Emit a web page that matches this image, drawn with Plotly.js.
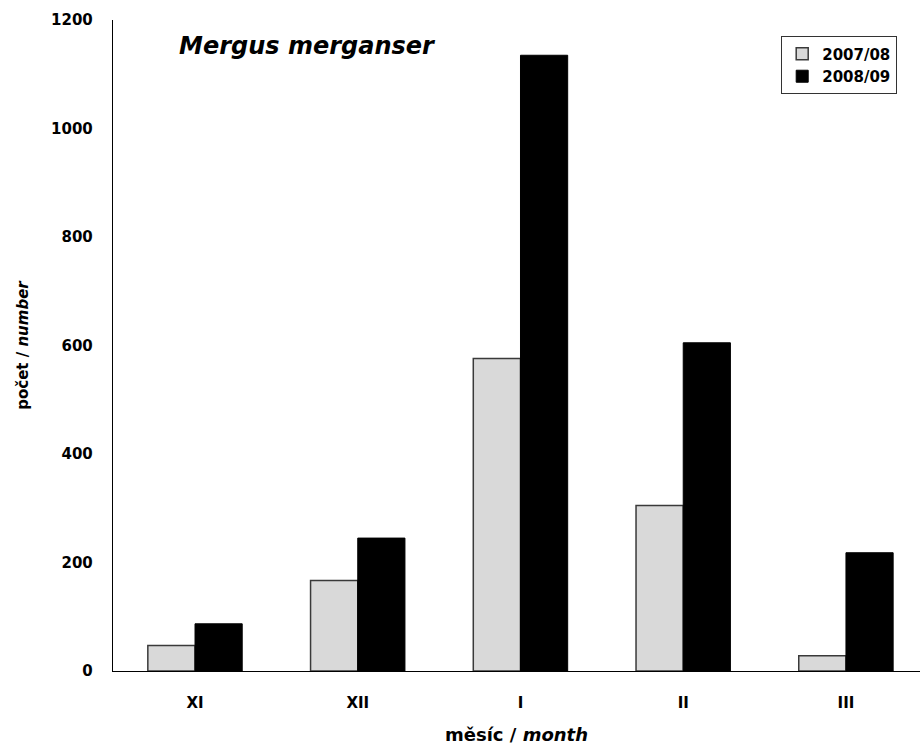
<!DOCTYPE html>
<html>
<head>
<meta charset="utf-8">
<script src="https://cdn.plot.ly/plotly-3.0.1.min.js"></script>
<style>html,body{margin:0;padding:0;background:#fff}</style>
</head>
<body>
<div id="chart" style="width:920px;height:747px"></div>
<script>
const months = ["XI", "XII", "I", "II", "III"];
const series1Name = "2007/08";
const series1 = [47, 167, 576, 305, 28];
const series2Name = "2008/09";
const series2 = [87, 245, 1135, 605, 218];
const yTicks = [0, 200, 400, 600, 800, 1000, 1200];

const font = "DejaVu Sans, Verdana, sans-serif";

const data = [
  {type: "bar", name: "<b>" + series1Name + "</b>", x: months, y: series1,
   marker: {color: "#d9d9d9", line: {color: "#3a3a3a", width: 1.5}}},
  {type: "bar", name: "<b>" + series2Name + "</b>", x: months, y: series2,
   marker: {color: "#000000", line: {color: "#000000", width: 1}}}
];

const layout = {
  width: 920, height: 747,
  margin: {l: 113, r: 0, t: 20, b: 76, pad: 0},
  paper_bgcolor: "#fff", plot_bgcolor: "#fff",
  barmode: "group", bargap: 0.42, bargroupgap: 0,
  font: {family: font, size: 15, color: "#000"},
  showlegend: true,
  legend: {x: 0.9715, xanchor: "right", y: 0.975, yanchor: "top",
    bordercolor: "#333", borderwidth: 1.2, bgcolor: "#fff",
    font: {family: font, size: 15, color: "#000"}, tracegroupgap: 4, itemwidth: 30},
  xaxis: {type: "category", range: [-0.504, 4.455], showline: true, linecolor: "#000", linewidth: 1.2,
    showgrid: false, zeroline: false, ticks: "", ticklabelstandoff: 18,
    tickfont: {family: font, size: 15, color: "#000", weight: "bold"},
    title: {text: "<b>měsíc / <i>month</i></b>", font: {family: font, size: 18, color: "#000"}, standoff: 17}},
  yaxis: {range: [0, 1200], tickvals: yTicks, ticktext: yTicks.map(String), showline: true, linecolor: "#000", linewidth: 1.2,
    showgrid: false, zeroline: false, ticks: "", ticklabelstandoff: 16,
    tickfont: {family: font, size: 15, color: "#000", weight: "bold"},
    title: {text: "<b>počet / <i>number</i></b>", font: {family: font, size: 15, color: "#000"}, standoff: 18}},
  annotations: [{text: "<b><i>Mergus merganser</i></b>", xref: "paper", yref: "paper",
    x: (307 - 113) / 807, y: (671 - 46) / 651, xanchor: "center", yanchor: "middle",
    showarrow: false, font: {family: font, size: 24, color: "#000"}}]
};

Plotly.newPlot("chart", data, layout, {displayModeBar: false, staticPlot: true});
</script>
</body>
</html>
